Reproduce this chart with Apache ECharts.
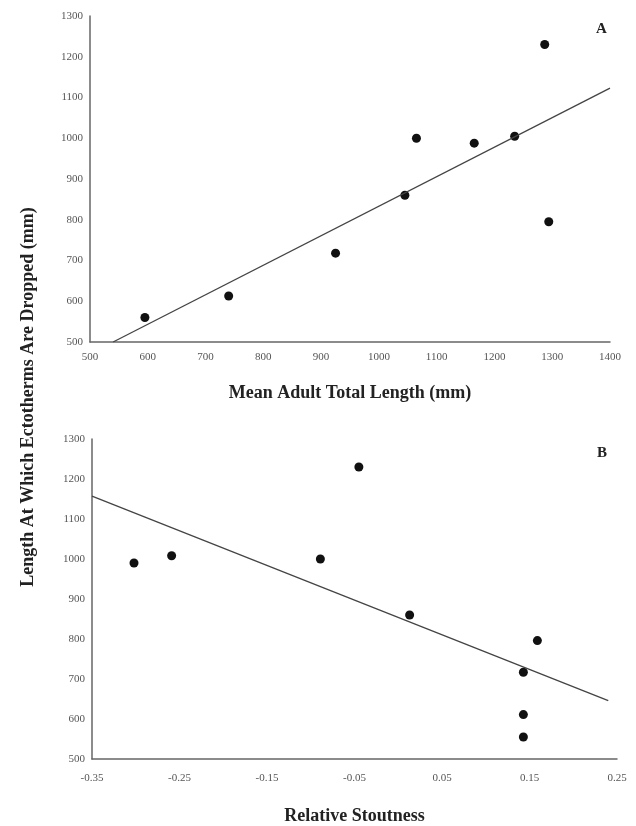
<!DOCTYPE html>
<html><head><meta charset="utf-8">
<script src="https://cdn.jsdelivr.net/npm/echarts@6/dist/echarts.min.js"></script>
<style>html,body{margin:0;padding:0;background:#fff}#c{width:636px;height:826px}</style>
</head><body><div id="c"></div>
<script>
// Panel A: Mean adult total length (mm) vs length at which ectotherms are dropped (mm)
const aLength = [595, 740, 925, 1045, 1065, 1165, 1235, 1287, 1294];
const aDropped = [560, 613, 718, 860, 1000, 988, 1005, 1230, 795];
const aFitX = [540, 1400];
const aFitY = [500, 1123];
const aTicks = [500, 600, 700, 800, 900, 1000, 1100, 1200, 1300, 1400];

// Panel B: Relative stoutness vs length at which ectotherms are dropped (mm)
const bStout = [-0.302, -0.259, -0.089, -0.045, 0.013, 0.159, 0.143, 0.143, 0.143];
const bDropped = [990, 1008, 1000, 1230, 860, 796, 717, 611, 555];
const bFitX = [-0.35, 0.24];
const bFitY = [1157, 646];
const bTicks = ['-0.35', '-0.25', '-0.15', '-0.05', '0.05', '0.15', '0.25'];
const yTicks = [500, 600, 700, 800, 900, 1000, 1100, 1200, 1300];

const serif = 'Liberation Serif';
const tickStyle = {fontFamily: serif, fontSize: 11, color: '#555', formatter: v => String(v)};
const axisLine = {show: true, onZero: false, lineStyle: {color: '#666', width: 1.5}};

const chart = echarts.init(document.getElementById('c'), null, {renderer: 'canvas'});
chart.setOption({
  backgroundColor: '#fff',
  animation: false,
  grid: [
    {left: 90, top: 16, width: 520, height: 326},
    {left: 92, top: 439, width: 525, height: 324}
  ],
  graphic: [
    {type: 'text', left: 596, top: 22, style: {text: 'A', font: 'bold 15px "Liberation Serif"', fill: '#222'}},
    {type: 'text', left: 597, top: 446, style: {text: 'B', font: 'bold 15px "Liberation Serif"', fill: '#222'}},
    {type: 'text', x: 28, y: 397, rotation: Math.PI / 2, style: {
      text: 'Length At Which Ectotherms Are Dropped (mm)', font: 'bold 18px "Liberation Serif"',
      fill: '#222', textAlign: 'center', textVerticalAlign: 'middle'}}
  ],
  xAxis: [
    {gridIndex: 0, type: 'value', min: aTicks[0], max: aTicks[aTicks.length - 1], interval: 100,
      axisLine: axisLine, axisTick: {show: false}, splitLine: {show: false},
      axisLabel: Object.assign({}, tickStyle, {margin: 10}),
      name: 'Mean Adult Total Length (mm)', nameLocation: 'middle', nameGap: 42,
      nameTextStyle: {fontFamily: serif, fontSize: 18, fontWeight: 'bold', color: '#222'}},
    {gridIndex: 1, type: 'value', min: -0.35, max: 0.25, interval: 0.1,
      axisLine: axisLine, axisTick: {show: false}, splitLine: {show: false},
      axisLabel: Object.assign({}, tickStyle, {margin: 14, formatter: function (v) {
        const i = Math.round((v + 0.35) / 0.1); return bTicks[i] !== undefined ? bTicks[i] : ''; }}),
      name: 'Relative Stoutness', nameLocation: 'middle', nameGap: 48,
      nameTextStyle: {fontFamily: serif, fontSize: 18, fontWeight: 'bold', color: '#222'}}
  ],
  yAxis: [
    {gridIndex: 0, type: 'value', min: yTicks[0], max: yTicks[yTicks.length - 1], interval: 100,
      axisLine: axisLine, axisTick: {show: false}, splitLine: {show: false},
      axisLabel: Object.assign({}, tickStyle, {margin: 7})},
    {gridIndex: 1, type: 'value', min: yTicks[0], max: yTicks[yTicks.length - 1], interval: 100,
      axisLine: axisLine, axisTick: {show: false}, splitLine: {show: false},
      axisLabel: Object.assign({}, tickStyle, {margin: 7})}
  ],
  series: [
    {type: 'scatter', xAxisIndex: 0, yAxisIndex: 0, symbolSize: 9,
      itemStyle: {color: '#111', opacity: 1}, data: aLength.map((x, i) => [x, aDropped[i]])},
    {type: 'line', xAxisIndex: 0, yAxisIndex: 0, symbol: 'none',
      lineStyle: {color: '#444', width: 1.3}, data: aFitX.map((x, i) => [x, aFitY[i]])},
    {type: 'scatter', xAxisIndex: 1, yAxisIndex: 1, symbolSize: 9,
      itemStyle: {color: '#111', opacity: 1}, data: bStout.map((x, i) => [x, bDropped[i]])},
    {type: 'line', xAxisIndex: 1, yAxisIndex: 1, symbol: 'none',
      lineStyle: {color: '#444', width: 1.3}, data: bFitX.map((x, i) => [x, bFitY[i]])}
  ]
});
</script></body></html>
